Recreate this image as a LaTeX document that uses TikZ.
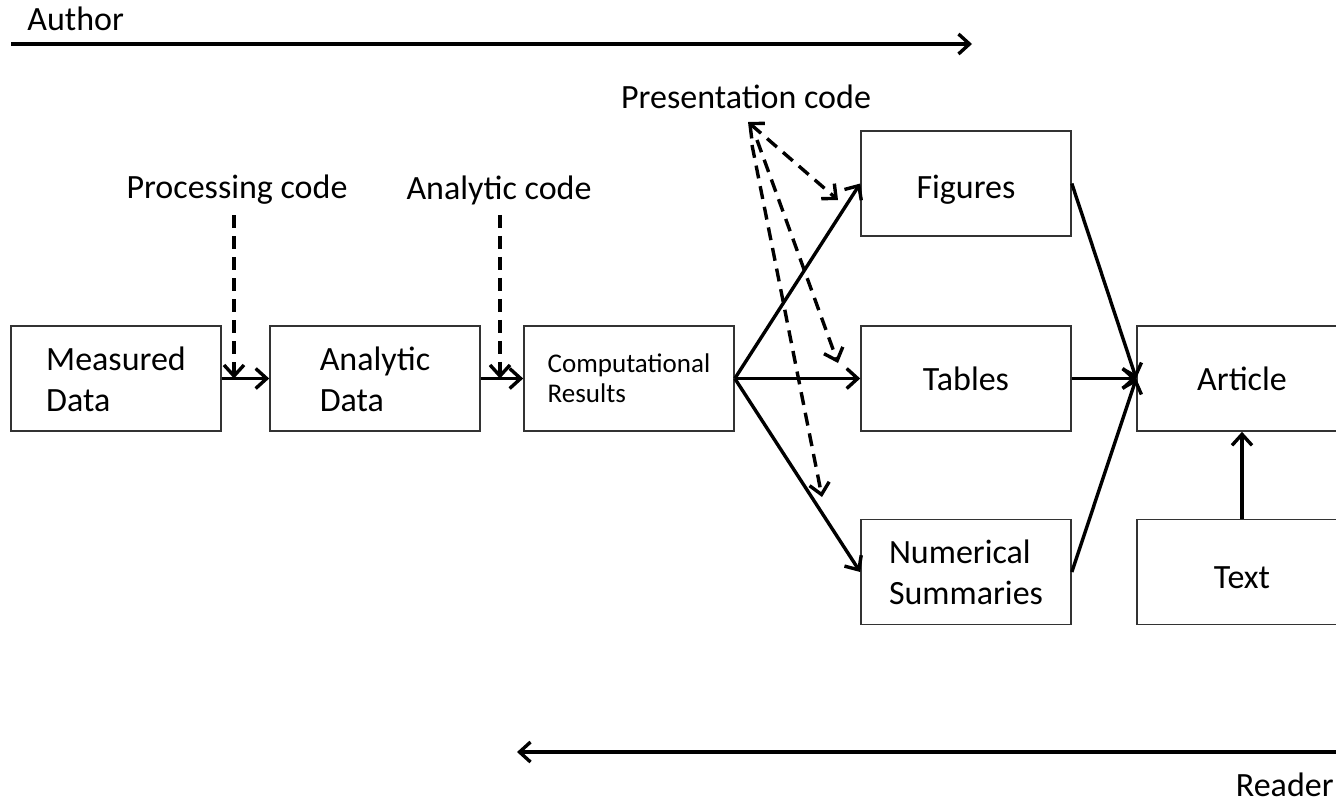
\documentclass[tikz,border=0pt]{standalone}
\usepackage{fontspec}
\setmainfont{Carlito}
\usetikzlibrary{arrows.meta}
\newcommand{\lowered}[2]{\raisebox{-#1}[\height][\depth]{#2}}
\begin{document}
\begin{tikzpicture}[x=0.5pt,y=-0.5pt,
  big/.style={font=\fontsize{17}{20.5}\selectfont},
  box/.style={draw=black!80, fill=white, line width=0.8pt, minimum width=105pt, minimum height=52.5pt, inner sep=0pt, align=left, big},
  lbl/.style={big, inner sep=0pt},
  arr/.style={line width=1.7pt, -{Straight Barb[length=5.5pt,width=10pt]}},
  darr/.style={arr, dash pattern=on 6.5pt off 4pt},
  ddarr/.style={line width=1.7pt, dash pattern=on 6.5pt off 4pt, {Straight Barb[length=5.5pt,width=10pt]}-{Straight Barb[length=5.5pt,width=10pt]}},
]
\useasboundingbox (0,0) rectangle (1336,804);
\clip (0,0) rectangle (1336,804);

% labels
\node[lbl, anchor=west] (author) at (27,19) {Author};
\node[lbl, anchor=east] (reader) at (1334,785) {Reader};
\node[lbl] (pres) at (746,97) {Presentation code};
\node[lbl] (proc) at (237,190) {Processing code};
\node[lbl] (anac) at (499,190) {Analytic code};

% boxes
\node[box] (md) at (116,378.5) {\lowered{2pt}{\begin{tabular}{@{}l@{}}Measured\\Data\end{tabular}}};
\node[box] (ad) at (375,378.5) {\lowered{2pt}{\begin{tabular}{@{}l@{}}Analytic\\Data\end{tabular}}};
\node[box, font=\fontsize{13.5}{15}\selectfont] (cr) at (629,378.5) {Computational\\Results};
\node[box] (fig) at (966,183.5) {\lowered{3pt}{Figures}};
\node[box] (tab) at (966,378.5) {Tables};
\node[box] (num) at (966,572) {Numerical\\Summaries};
\node[box] (art) at (1242,378.5) {Article};
\node[box] (txt) at (1242,572) {\lowered{3pt}{Text}};

% author / reader arrows
\coordinate (a0) at (11,44);
\coordinate (a1) at (972,44);
\draw[arr] (a0) -- (a1);
\coordinate (r0) at (1345,752);
\coordinate (r1) at (517,752);
\draw[arr] (r0) -- (r1);

% main flow
\draw[arr] (md.east) -- (ad.west);
\draw[arr] (ad.east) -- (cr.west);
\draw[arr] (cr.east) -- (fig.west);
\draw[arr] (cr.east) -- (tab.west);
\draw[arr] (cr.east) -- (num.west);
\draw[arr] (fig.east) -- (art.west);
\draw[arr] (tab.east) -- (art.west);
\draw[arr] (num.east) -- (art.west);
\draw[arr] (txt.north) -- (art.south);

% code arrows
\coordinate (p1) at (234,378.5);
\draw[darr, shorten <=5pt] (proc.south -| p1) -- (p1);
\coordinate (q1) at (500,378.5);
\draw[darr, shorten <=5pt] (anac.south -| q1) -- (q1);

\coordinate (s0) at (748,122);
\coordinate (s1) at (757,140);
\coordinate (s2) at (752,145);
\coordinate (ft) at (838,200);
\coordinate (tt) at (838,363);
\coordinate (nt) at (822,497);
\draw[ddarr] (s0) -- (ft);
\draw[darr] (s1) -- (tt);
\draw[darr] (s2) -- (nt);
\end{tikzpicture}
\end{document}
